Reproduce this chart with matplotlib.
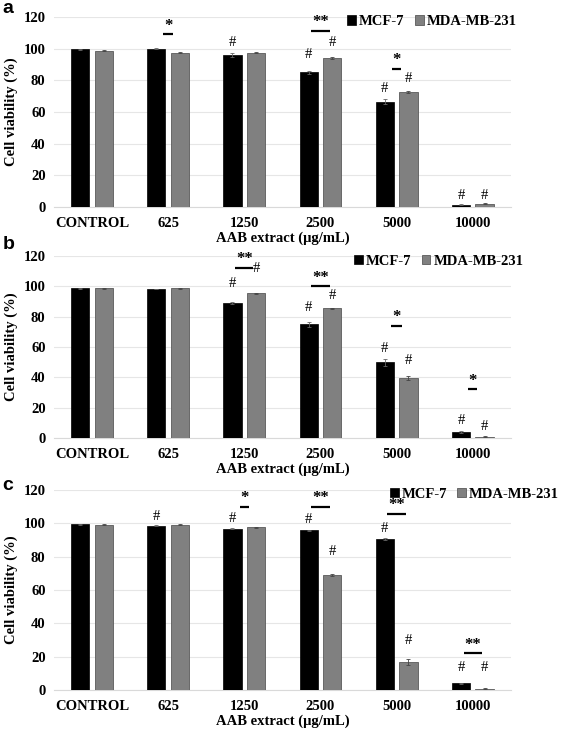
import matplotlib
matplotlib.use("Agg")
import matplotlib.pyplot as plt
import numpy as np

plt.rcParams['font.family'] = ['Liberation Serif', 'DejaVu Serif']

categories = ["CONTROL", "625", "1250", "2500", "5000", "10000"]
series_names = ["MCF-7", "MDA-MB-231"]
y_ticks = [0, 20, 40, 60, 80, 100, 120]

# Panel a
mcf_a = [99.5, 99.8, 96.0, 85.0, 66.5, 1.5]
mda_a = [98.7, 97.5, 97.5, 94.0, 72.5, 2.0]
mcf_a_err = [0.3, 0.3, 1.2, 0.8, 1.5, 0.3]
mda_a_err = [0.4, 0.5, 0.3, 0.6, 0.5, 0.3]
# Panel b
mcf_b = [98.8, 98.3, 89.3, 75.0, 50.0, 4.0]
mda_b = [98.8, 98.8, 95.4, 85.5, 39.8, 0.8]
mcf_b_err = [0.3, 0.3, 0.6, 1.8, 2.2, 0.6]
mda_b_err = [0.3, 0.3, 0.5, 0.4, 1.3, 0.2]
# Panel c
mcf_c = [99.5, 98.5, 96.7, 95.9, 90.5, 4.0]
mda_c = [99.3, 99.3, 97.7, 69.2, 16.8, 0.8]
mcf_c_err = [0.2, 0.3, 0.3, 0.3, 0.6, 0.3]
mda_c_err = [0.2, 0.2, 0.3, 0.5, 1.8, 0.2]

# annotations: "#" marks (category, series, text y)
hash_a = [(2, 0, 104), (3, 0, 96), (3, 1, 104), (4, 0, 75), (4, 1, 81), (5, 0, 7.5), (5, 1, 7.5)]
hash_b = [(2, 0, 102), (2, 1, 112), (3, 0, 86), (3, 1, 94), (4, 0, 59), (4, 1, 51), (5, 0, 11.5), (5, 1, 7.5)]
hash_c = [(1, 0, 104), (2, 0, 103), (3, 0, 102.5), (3, 1, 83), (4, 0, 97), (4, 1, 29.5), (5, 0, 13.5), (5, 1, 13.5)]
# significance: (category, line y, text, half width)
sig_a = [(1, 109, "*", 0.07), (3, 111, "**", 0.13), (4, 87, "*", 0.06)]
sig_b = [(2, 112, "**", 0.12), (3, 100, "**", 0.12), (4, 74, "*", 0.07), (5, 32, "*", 0.06)]
sig_c = [(2, 110, "*", 0.06), (3, 110, "**", 0.12), (4, 105.5, "**", 0.12), (5, 22, "**", 0.12)]

# (label, data..., axes rect, legend anchor x, label y)
panels = [
    ("a", mcf_a, mda_a, mcf_a_err, mda_a_err, hash_a, sig_a, [0.095, 0.7188, 0.806, 0.2582], 1.025, 1.0),
    ("b", mcf_b, mda_b, mcf_b_err, mda_b_err, hash_b, sig_b, [0.095, 0.4049, 0.806, 0.2472], 1.04, 0.680),
    ("c", mcf_c, mda_c, mcf_c_err, mda_c_err, hash_c, sig_c, [0.095, 0.0625, 0.806, 0.2717], 1.118, 0.352),
]

fig = plt.figure(figsize=(5.67, 7.36), dpi=100)
black = "#000000"
gray = "#808080"
bw = 0.24
off = 0.155
x = np.arange(len(categories))

for label, mcf, mda, mcf_e, mda_e, hashes, sigs, rect, legx, laby in panels:
    ax = fig.add_axes(rect)
    ax.bar(x - off, mcf, bw, color=black, edgecolor=black, linewidth=0.5, label=series_names[0], zorder=3)
    ax.bar(x + off, mda, bw, color=gray, edgecolor="#5a5a5a", linewidth=0.6, label=series_names[1], zorder=3)
    ax.errorbar(x - off, mcf, yerr=mcf_e, fmt="none", ecolor="#666666", elinewidth=0.6, capsize=1.5, capthick=0.6, zorder=4)
    ax.errorbar(x + off, mda, yerr=mda_e, fmt="none", ecolor="#444444", elinewidth=0.6, capsize=1.5, capthick=0.6, zorder=4)
    ax.set_xlim(-0.5, 5.5)
    ax.set_ylim(0, 120)
    ax.set_yticks(y_ticks)
    ax.set_xticks(x)
    ax.set_xticklabels(categories)
    ax.tick_params(axis="both", length=0, labelsize=10.5)
    ax.tick_params(axis="y", pad=6)
    ax.tick_params(axis="x", pad=7)
    for t in ax.get_xticklabels() + ax.get_yticklabels():
        t.set_fontweight("bold")
    ax.grid(axis="y", color="#e6e6e6", linewidth=0.8, zorder=0)
    ax.set_axisbelow(True)
    for s in ["top", "right", "left"]:
        ax.spines[s].set_visible(False)
    ax.spines["bottom"].set_color("#d9d9d9")
    ax.spines["bottom"].set_linewidth(0.8)
    ax.set_ylabel("Cell viability (%)", fontsize=10.5, fontweight="bold", labelpad=4)
    ax.set_xlabel("AAB extract (μg/mL)", fontsize=10.5, fontweight="bold", labelpad=1)
    ax.legend(loc="upper right", bbox_to_anchor=(legx, 1.04), ncol=2, frameon=False,
              prop={"weight": "bold", "size": 10.5}, handlelength=0.6, handleheight=0.6,
              handletextpad=0.2, columnspacing=0.7, borderaxespad=0)
    for cat, ser, yy in hashes:
        xx = cat - off if ser == 0 else cat + off
        ax.text(xx, yy, "#", ha="center", va="center", fontsize=10.5, zorder=5)
    for cat, yy, txt, hw in sigs:
        ax.plot([cat - hw, cat + hw], [yy, yy], color="black", linewidth=1.6, solid_capstyle="butt", zorder=5)
        ax.annotate(txt, (cat, yy), xytext=(0, 0.5), textcoords="offset points",
                    ha="center", va="bottom", fontsize=12, fontweight="bold", zorder=5)
    fig.text(0.004, laby, label, fontsize=14, fontweight="bold",
             family=["Liberation Sans", "DejaVu Sans"], ha="left", va="top")

fig.savefig("out.png", dpi=100)
